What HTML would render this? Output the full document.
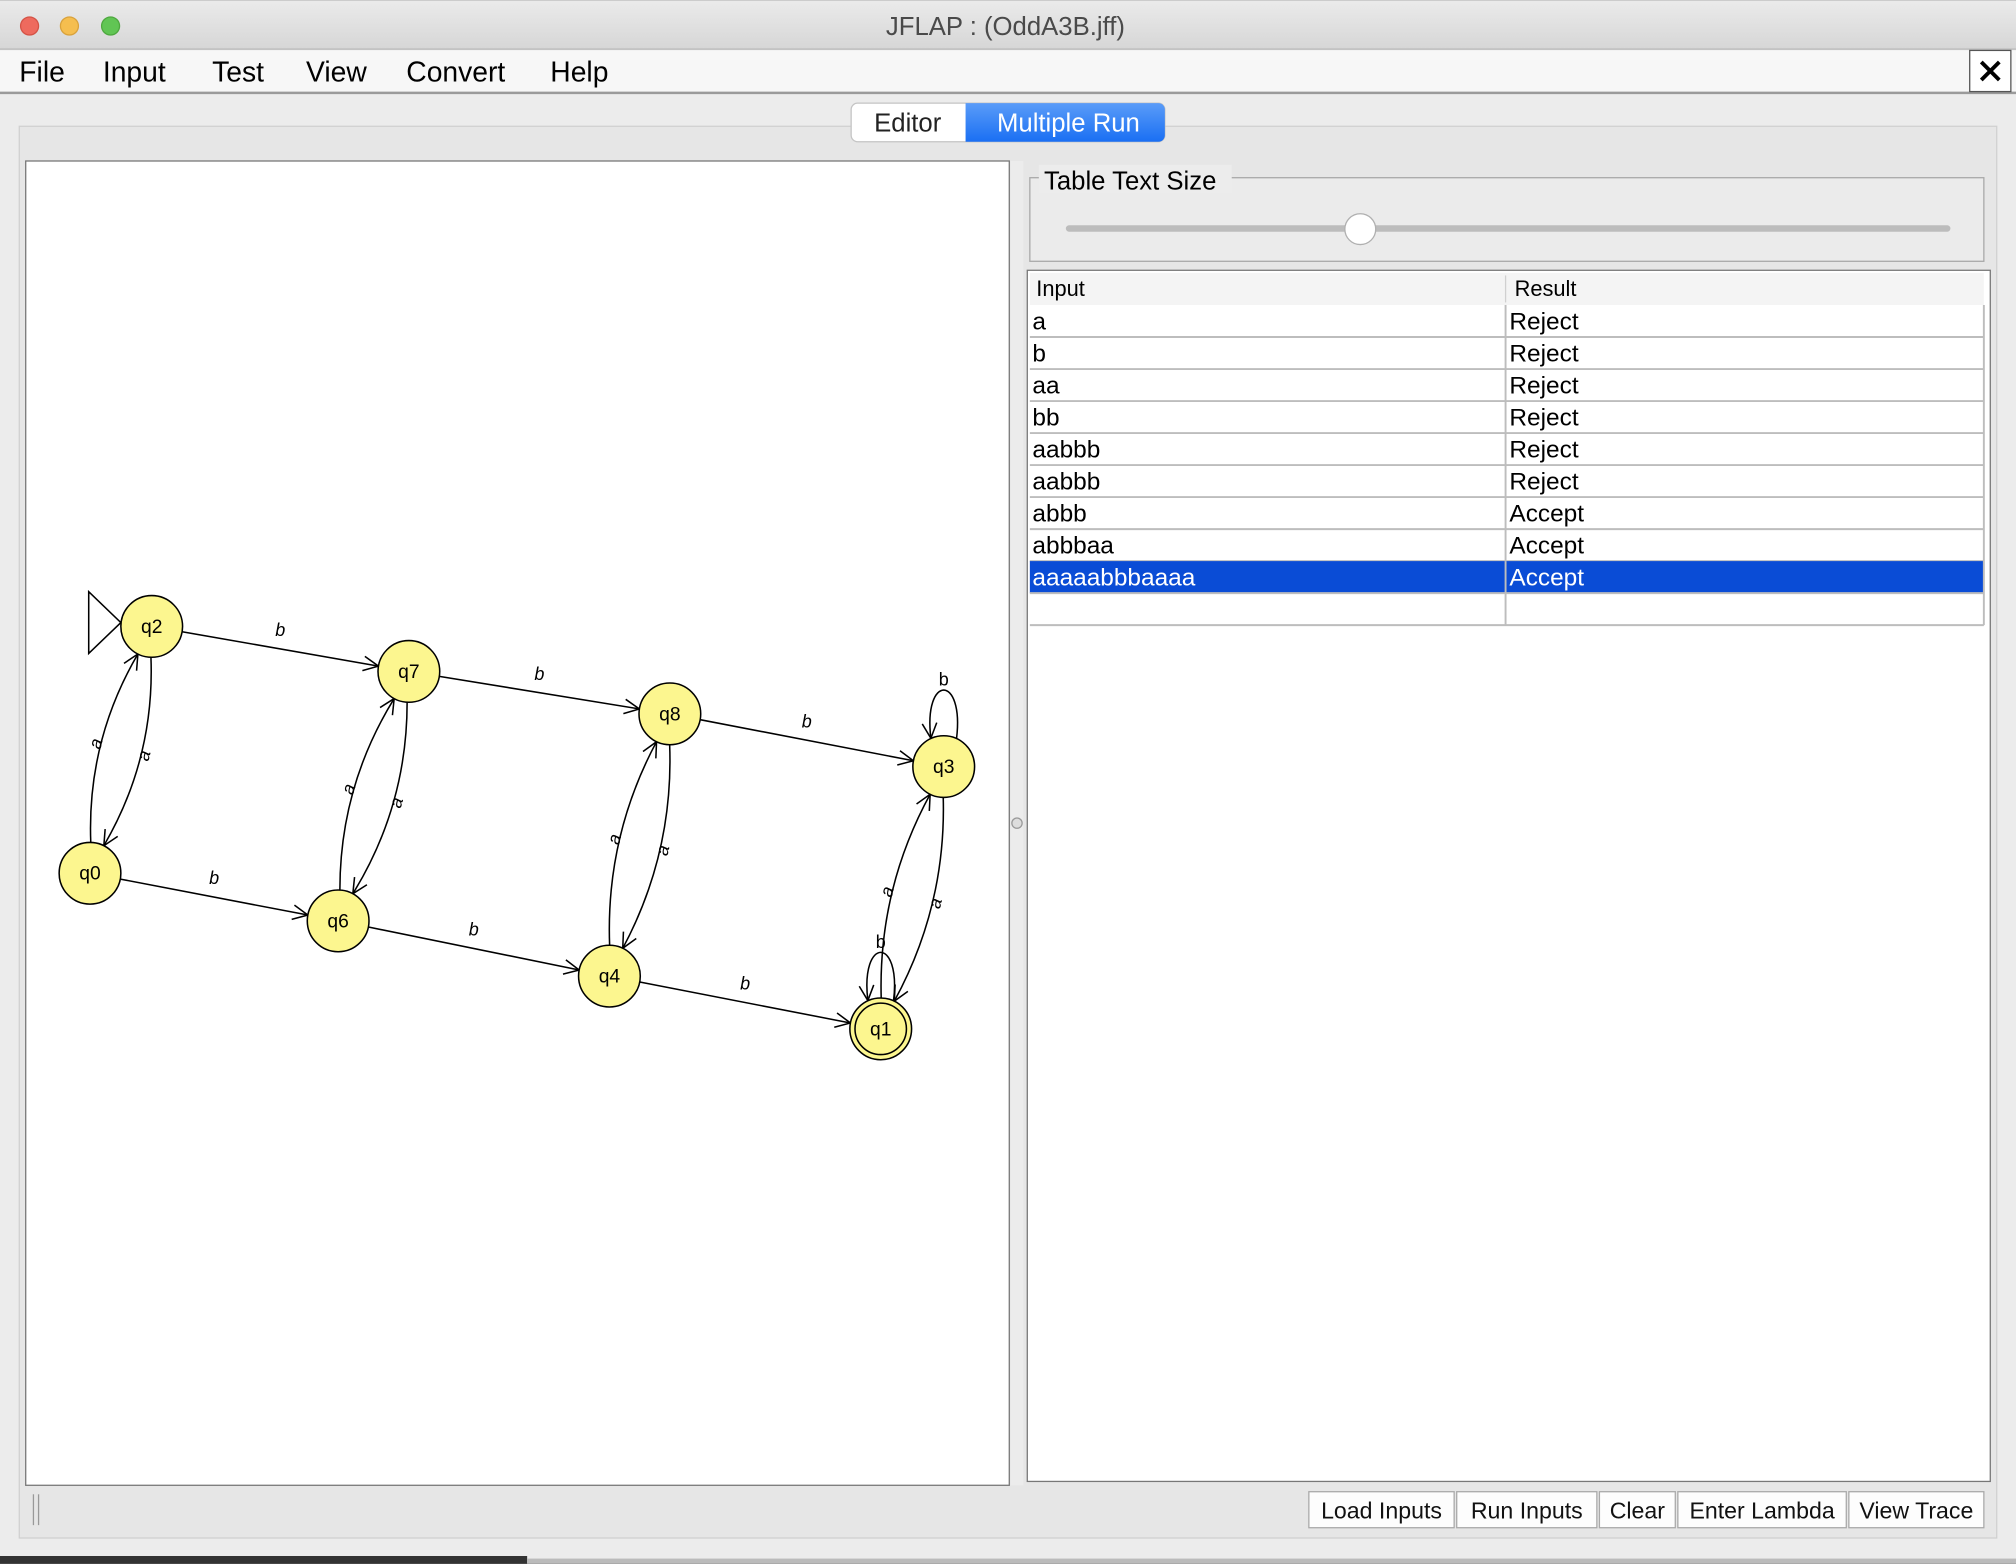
<!DOCTYPE html>
<html><head><meta charset="utf-8"><style>
html,body{margin:0;padding:0;background:#2b2b2b;width:2016px;height:1564px;overflow:hidden}
svg{display:block}
text{font-family:"Liberation Sans","DejaVu Sans",sans-serif}
</style></head><body>
<svg id="app" width="2016" height="1564" viewBox="0 0 1568 1216" xmlns="http://www.w3.org/2000/svg">
<defs>
<linearGradient id="tb" x1="0" y1="0" x2="0" y2="1"><stop offset="0" stop-color="#ebebeb"/><stop offset="1" stop-color="#d6d6d6"/></linearGradient>
<linearGradient id="blue" x1="0" y1="0" x2="0" y2="1"><stop offset="0" stop-color="#5a9cf8"/><stop offset="1" stop-color="#1a6ff3"/></linearGradient>
</defs>
<rect x="0" y="0" width="1568" height="1216" fill="#ececec"/>
<g>
<rect x="0" y="0" width="1568" height="38" fill="url(#tb)"/>
<line x1="0" y1="38" x2="1568" y2="38" stroke="#b5b5b5"/>
<circle cx="23" cy="20" r="7" fill="#ee6a5e" stroke="#d45346"/>
<circle cx="54" cy="20" r="7" fill="#f5be4f" stroke="#d9a23c"/>
<circle cx="86" cy="20" r="7" fill="#61c554" stroke="#4ea83f"/>
<text x="782" y="27" font-size="20" fill="#4a4a4a" text-anchor="middle">JFLAP : (OddA3B.jff)</text>
</g>
<g>
<rect x="0" y="39" width="1568" height="33" fill="#f7f7f7"/>
<line x1="0" y1="72" x2="1568" y2="72" stroke="#9a9a9a" stroke-width="2"/>
<text x="15" y="63" font-size="22" fill="#000">File</text>
<text x="80" y="63" font-size="22" fill="#000">Input</text>
<text x="165" y="63" font-size="22" fill="#000">Test</text>
<text x="238" y="63" font-size="22" fill="#000">View</text>
<text x="316" y="63" font-size="22" fill="#000">Convert</text>
<text x="428" y="63" font-size="22" fill="#000">Help</text>
<g>
<rect x="1532" y="39" width="32" height="32" fill="#fff" stroke="#555"/>
<path d="M1541 48 L1555 62 M1555 48 L1541 62" stroke="#000" stroke-width="3"/>
</g>
</g>
<rect x="15" y="98" width="1538" height="1098" fill="#e6e6e6" stroke="#d0d0d0"/>
<g>
<rect x="662" y="80" width="244" height="30" rx="5" fill="#fff" stroke="#c4c4c4"/>
<path d="M751 80 H901 A5 5 0 0 1 906 85 V105 A5 5 0 0 1 901 110 H751 Z" fill="url(#blue)"/>
<text x="706" y="102" font-size="20" text-anchor="middle" fill="#222">Editor</text>
<text x="831" y="102" font-size="20" text-anchor="middle" fill="#fff">Multiple Run</text>
</g>
<rect x="20" y="125" width="765" height="1030" fill="#fff" stroke="#777"/>
<rect x="786" y="125" width="10" height="1030" fill="#ececec"/>
<circle cx="791" cy="640" r="4" fill="#ddd" stroke="#999"/>
<g id="graph"></g>
<g>
<rect x="801" y="138" width="742" height="65" fill="#ebebeb" stroke="#a8a8a8"/>
<rect x="808" y="128" width="150" height="22" fill="#ececec"/>
<text x="812" y="147" font-size="20" fill="#000">Table Text Size</text>
<rect x="829" y="175" width="688" height="5" rx="2.5" fill="#bcbcbc"/>
<circle cx="1058" cy="178" r="12" fill="#fff" stroke="#b0b0b0"/>
</g>
<g id="table">
<rect x="799" y="210" width="749" height="942" fill="#fff" stroke="#777"/>
<rect x="801" y="212" width="742" height="25" fill="#f4f4f4"/>
<line x1="1171" y1="214" x2="1171" y2="235" stroke="#d0d0d0"/>
<text x="806" y="230" font-size="17" fill="#000">Input</text>
<text x="1178" y="230" font-size="17" fill="#000">Result</text>
</g>
<g>
<line x1="26" y1="1162" x2="26" y2="1186" stroke="#999"/>
<line x1="30" y1="1162" x2="30" y2="1186" stroke="#999"/>
<g id="buttons"></g>
</g>
<rect x="0" y="1210" width="410" height="6" fill="#333"/>
<rect x="410" y="1212" width="1158" height="4" fill="#bbb"/>
</svg>
<script>
const NS='http://www.w3.org/2000/svg';
const stateNames=['q2','q7','q8','q3','q0','q6','q4','q1'];
const stateX=[118,318,521,734,70,263,474,685];
const stateY=[487,522,555,596,679,716,759,800];
const straightFrom=['q2','q7','q8','q0','q6','q4'];
const straightTo=['q7','q8','q3','q6','q4','q1'];
const curvedFrom=['q0','q2','q6','q7','q4','q8','q1','q3'];
const curvedTo=['q2','q0','q7','q6','q8','q4','q3','q1'];
const loopStates=['q3','q1'];
const tableInputs=['a','b','aa','bb','aabbb','aabbb','abbb','abbbaa','aaaaabbbaaaa'];
const tableResults=['Reject','Reject','Reject','Reject','Reject','Reject','Accept','Accept','Accept'];
const selectedRow=8;
const buttonLabels=['Load Inputs','Run Inputs','Clear','Enter Lambda','View Trace'];
const buttonWidths=[113,109,59,131,105];

function mk(tag,attrs,parent){const e=document.createElementNS(NS,tag);for(const k in attrs)e.setAttribute(k,attrs[k]);parent.appendChild(e);return e;}
const g=document.getElementById('graph');
const R=24;
function pos(n){const i=stateNames.indexOf(n);return [stateX[i],stateY[i]];}
function arrow(x,y,ang,parent){
  const L=13,w=0.45;
  const p=`M${x-L*Math.cos(ang-w)} ${y-L*Math.sin(ang-w)} L${x} ${y} L${x-L*Math.cos(ang+w)} ${y-L*Math.sin(ang+w)}`;
  mk('path',{d:p,fill:'none',stroke:'#000','stroke-width':1.2},parent);
}
for(let i=0;i<straightFrom.length;i++){
  const [x1,y1]=pos(straightFrom[i]),[x2,y2]=pos(straightTo[i]);
  const a=Math.atan2(y2-y1,x2-x1);
  const sx=x1+R*Math.cos(a),sy=y1+R*Math.sin(a),ex=x2-R*Math.cos(a),ey=y2-R*Math.sin(a);
  const e=mk('g',{},g);
  
  
  mk('line',{x1:sx,y1:sy,x2:ex,y2:ey,stroke:'#000','stroke-width':1.2},e);
  arrow(ex,ey,a,e);
  const t=mk('text',{x:(x1+x2)/2,y:(y1+y2)/2-10,'font-size':14,'font-style':'italic','text-anchor':'middle'},e);
  t.textContent='b';
}
for(let i=0;i<curvedFrom.length;i++){
  const [x1,y1]=pos(curvedFrom[i]),[x2,y2]=pos(curvedTo[i]);
  const a=Math.atan2(y2-y1,x2-x1);
  const off=0.22;
  const sa=a-off,ea=a+Math.PI+off;
  const sx=x1+R*Math.cos(sa),sy=y1+R*Math.sin(sa),ex=x2+R*Math.cos(ea),ey=y2+R*Math.sin(ea);
  const mx=(sx+ex)/2,my=(sy+ey)/2,d=Math.hypot(ex-sx,ey-sy);
  const nx=(ey-sy)/d,ny=-(ex-sx)/d;
  const cx=mx+nx*22,cy=my+ny*22;
  const e=mk('g',{},g);
  
  
  mk('path',{d:`M${sx} ${sy} Q${cx} ${cy} ${ex} ${ey}`,fill:'none',stroke:'#000','stroke-width':1.2},e);
  arrow(ex,ey,Math.atan2(ey-cy,ex-cx),e);
  const lx=mx+nx*14,ly=my+ny*14;
  let deg=Math.atan2(ey-sy,ex-sx)*180/Math.PI;
  if(deg>90)deg-=180; if(deg<-90)deg+=180;
  const t=mk('text',{x:lx,y:ly,'font-size':14,'font-style':'italic','text-anchor':'middle','dominant-baseline':'middle',transform:`rotate(${deg} ${lx} ${ly})`},e);
  t.textContent='a';
}
for(let i=0;i<loopStates.length;i++){
  const [x,y]=pos(loopStates[i]);
  const e=mk('g',{},g);
  
  
  const sx=x-10,sy=y-R+2,ex=x+10,ey=y-R+2;
  mk('path',{d:`M${ex} ${ey} C${x+16} ${y-72} ${x-16} ${y-72} ${sx} ${sy}`,fill:'none',stroke:'#000','stroke-width':1.2},e);
  arrow(sx,sy,Math.atan2(sy-(y-55),sx-(x-13)),e);
  const t=mk('text',{x:x,y:y-63,'font-size':14,'text-anchor':'middle'},e);
  t.textContent='b';
}
const st=mk('path',{d:'M69 460 L94 484 L69 508 Z',fill:'#fff',stroke:'#000','stroke-width':1.2},g);


for(let i=0;i<stateNames.length;i++){
  const e=mk('g',{},g);
  
  
  mk('circle',{cx:stateX[i],cy:stateY[i],r:R,fill:'#fcf68f',stroke:'#000','stroke-width':1.2},e);
  if(stateNames[i]==='q1')mk('circle',{cx:stateX[i],cy:stateY[i],r:R-4,fill:'none',stroke:'#000','stroke-width':1.2},e);
  const t=mk('text',{x:stateX[i],y:stateY[i]+5,'font-size':15,'text-anchor':'middle'},e);
  t.textContent=stateNames[i];
}
const tb=document.getElementById('table');
const rowH=24.9,row0=237;
for(let i=0;i<=tableInputs.length;i++){
  const y=row0+i*rowH;
  const r=mk('g',{},tb);
  
  
  if(i===selectedRow)mk('rect',{x:801,y:y,width:742,height:rowH,fill:'#0a4cd6'},r);
  mk('line',{x1:801,y1:y+rowH,x2:1543,y2:y+rowH,stroke:'#bdbdbd','stroke-width':1.5},r);
  mk('line',{x1:1171,y1:y,x2:1171,y2:y+rowH,stroke:'#bdbdbd','stroke-width':1.5},r);
  if(i<tableInputs.length){
    const col=i===selectedRow?'#fff':'#000';
    const a=mk('text',{x:803,y:y+19,'font-size':19,fill:col},r);a.textContent=tableInputs[i];
    const b=mk('text',{x:1174,y:y+19,'font-size':19,fill:col},r);b.textContent=tableResults[i];
  }
}
mk('line',{x1:1543,y1:237,x2:1543,y2:row0+(tableInputs.length+1)*rowH,stroke:'#bdbdbd','stroke-width':1.5},tb);
const bg=document.getElementById('buttons');
let bx=1018;
for(let i=0;i<buttonLabels.length;i++){
  const b=mk('g',{},bg);
  
  
  mk('rect',{x:bx,y:1160,width:buttonWidths[i],height:28,fill:'#fdfdfd',stroke:'#a9a9a9'},b);
  const t=mk('text',{x:bx+buttonWidths[i]/2,y:1181,'font-size':18,'text-anchor':'middle',fill:'#111'},b);
  t.textContent=buttonLabels[i];
  bx+=buttonWidths[i]+2;
}
</script>
</body></html>
